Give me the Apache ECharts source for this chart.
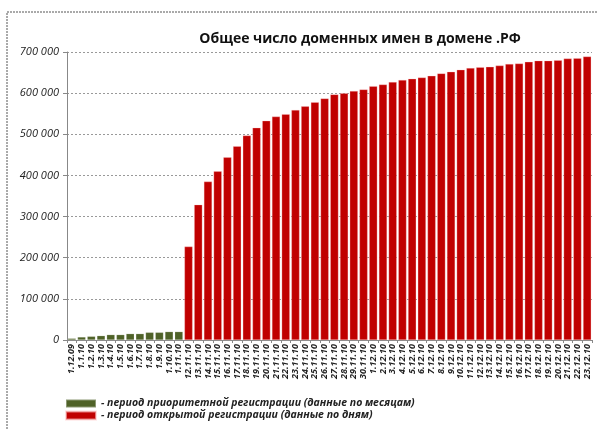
<!DOCTYPE html>
<html>
<head>
<meta charset="utf-8">
<script src="https://cdn.jsdelivr.net/npm/echarts@6/dist/echarts.min.js"></script>
<style>
  html, body { margin: 0; padding: 0; background: #fff; }
  #chart { width: 598px; height: 430px; }
</style>
</head>
<body>
<div id="chart"></div>
<script>
// priority registration, monthly totals
const monthLabels = ['1.12.09', '1.1.10', '1.2.10', '1.3.10', '1.4.10', '1.5.10', '1.6.10',
  '1.7.10', '1.8.10', '1.9.10', '1.10.10', '1.11.10'];
const monthValues = [4000, 7300, 8900, 10500, 13000, 13000, 15400, 15400, 18600, 18600, 20300, 20300];

// open registration, daily totals
const dayLabels = ['12.11.10', '13.11.10', '14.11.10', '15.11.10', '16.11.10', '17.11.10', '18.11.10',
  '19.11.10', '20.11.10', '21.11.10', '22.11.10', '23.11.10', '24.11.10', '25.11.10', '26.11.10',
  '27.11.10', '28.11.10', '29.11.10', '30.11.10', '1.12.10', '2.12.10', '3.12.10', '4.12.10',
  '5.12.10', '6.12.10', '7.12.10', '8.12.10', '9.12.10', '10.12.10', '11.12.10', '12.12.10',
  '13.12.10', '14.12.10', '15.12.10', '16.12.10', '17.12.10', '18.12.10', '19.12.10', '20.12.10',
  '21.12.10', '22.12.10', '23.12.10'];
const dayValues = [227000, 329000, 385000, 410000, 444000, 471000, 497000, 516000, 533000, 543000,
  549000, 559000, 568000, 578000, 587000, 597000, 600000, 605000, 609000, 617000, 621000, 627000,
  632000, 635000, 638000, 642000, 648000, 652000, 657000, 661000, 663000, 664000, 667000, 671000,
  672000, 676000, 679000, 679000, 680000, 684000, 685000, 689000];

const seriesNames = ['- период приоритетной регистрации (данные по месяцам)',
  '- период открытой регистрации (данные по дням)'];

const yTicks = { min: 0, max: 700000, interval: 100000 };

const categories = monthLabels.concat(dayLabels);
const greenData = monthValues.concat(dayLabels.map(() => '-'));
const redData = monthLabels.map(() => '-').concat(dayValues);

function fmt(v) {
  return String(v).replace(/\B(?=(\d{3})+(?!\d))/g, ' ');
}

const legendText = { fontSize: 10.5, fontStyle: 'italic', fontWeight: 'bold', color: '#222' };

const chart = echarts.init(document.getElementById('chart'));

chart.setOption({
  animation: false,
  textStyle: { fontFamily: 'Open Sans' },
  title: {
    text: 'Общее число доменных имен в домене .РФ',
    left: 355,
    textAlign: 'center',
    top: 27,
    textStyle: { fontSize: 14, fontWeight: 'bold', color: '#111', fontFamily: 'Open Sans' }
  },
  graphic: [{
    type: 'rect',
    shape: { x: 7, y: 12, width: 620, height: 460 },
    style: { fill: 'none', stroke: '#555', lineWidth: 1, lineDash: [2, 1] },
    silent: true
  }],
  legend: [
    {
      left: 60, top: 393, itemWidth: 30, itemHeight: 8, icon: 'rect',
      textStyle: legendText, data: [seriesNames[0]]
    },
    {
      left: 60, top: 405, itemWidth: 30, itemHeight: 8, icon: 'rect',
      textStyle: legendText, data: [seriesNames[1]]
    }
  ],
  grid: { left: 67, right: 6, top: 52, bottom: 90 },
  xAxis: {
    type: 'category',
    data: categories,
    axisLine: { lineStyle: { color: '#888' } },
    axisTick: { show: true, length: 3, lineStyle: { color: '#888' } },
    axisLabel: {
      interval: 0,
      rotate: 90,
      fontSize: 9,
      fontStyle: 'italic',
      fontWeight: 'bold',
      color: '#222',
      margin: 4
    }
  },
  yAxis: {
    type: 'value',
    min: yTicks.min,
    max: yTicks.max,
    interval: yTicks.interval,
    axisLine: { show: true, lineStyle: { color: '#888' } },
    axisTick: { show: true, length: 4, lineStyle: { color: '#888' } },
    splitLine: { lineStyle: { color: '#999', type: [2, 2] } },
    axisLabel: {
      formatter: fmt,
      fontSize: 11,
      fontStyle: 'italic',
      color: '#222',
      margin: 8
    }
  },
  series: [
    {
      name: seriesNames[0],
      type: 'bar',
      data: greenData,
      barGap: '-100%',
      barCategoryGap: '16%',
      itemStyle: { color: '#4f6228', borderColor: 'rgba(255,255,255,0.35)', borderWidth: 0.5 }
    },
    {
      name: seriesNames[1],
      type: 'bar',
      data: redData,
      barGap: '-100%',
      barCategoryGap: '16%',
      itemStyle: { color: '#c00000', borderColor: 'rgba(255,200,200,0.6)', borderWidth: 0.5 }
    }
  ]
});
</script>
</body>
</html>
